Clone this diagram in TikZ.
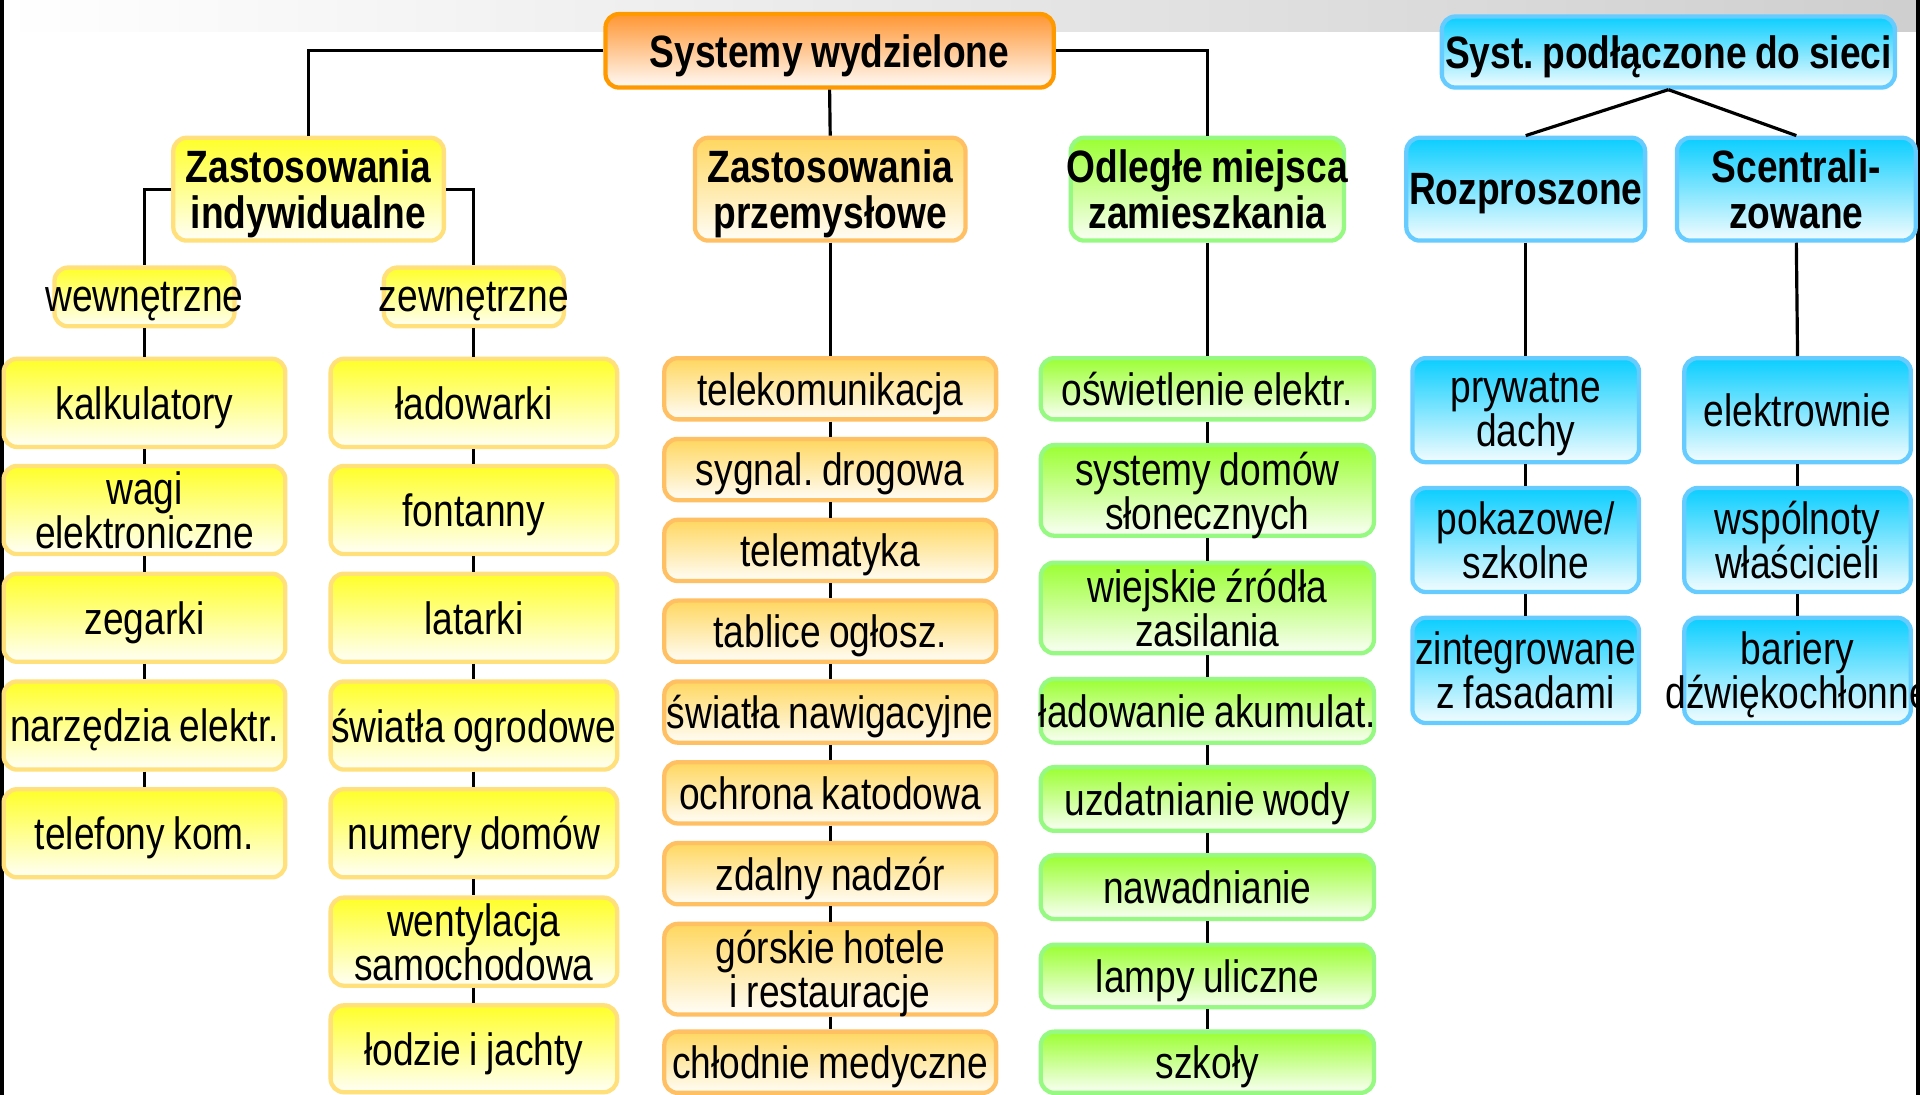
\documentclass[tikz,border=0pt]{standalone}
\usepackage{fontspec}
\setmainfont[FakeStretch=0.82,WordSpace=0.82]{Liberation Sans}
\frenchspacing
\begin{document}
\begin{tikzpicture}[x=1pt,y=1pt,
  box/.style={rounded corners=11pt, line width=3.5pt, inner sep=0pt, align=center,
    text depth=0pt, font=\fontsize{37}{36}\selectfont},
  head/.style={box, font=\fontsize{37}{37}\selectfont\bfseries},
  titleBox/.style={draw=titleDraw, top color=titleFill, bottom color=titleFill!4!white},
  yellowBox/.style={draw=yellowDraw, top color=yellowFill, bottom color=yellowFill!4!white},
  orangeBox/.style={draw=orangeDraw, top color=orangeFill, bottom color=orangeFill!5!white},
  greenBox/.style={draw=greenDraw, top color=greenFill, bottom color=greenFill!5!white},
  blueBox/.style={draw=blueDraw, top color=blueFill, bottom color=blueFill!5!white},
  link/.style={draw=black, line width=2.6pt}]
\definecolor{titleDraw}{RGB}{255,153,0}
\definecolor{titleFill}{RGB}{255,150,50}
\definecolor{yellowDraw}{RGB}{255,224,122}
\definecolor{yellowFill}{RGB}{255,255,40}
\definecolor{orangeDraw}{RGB}{255,192,100}
\definecolor{orangeFill}{RGB}{255,215,95}
\definecolor{greenDraw}{RGB}{150,250,130}
\definecolor{greenFill}{RGB}{155,255,50}
\definecolor{blueDraw}{RGB}{102,204,255}
\definecolor{blueFill}{RGB}{10,206,255}
\path[use as bounding box,fill=white] (0,0) rectangle (1568,894);

% slide frame
\shade[left color=white, right color=black!19] (0,868) rectangle (1568,894);
\fill[black] (0,0) rectangle (3,894);
\fill[black] (1565,0) rectangle (1568,894);

% headers
\node[head,titleBox,minimum width=366pt,minimum height=60pt] (sysWydz) at (677.5,852.5) {Systemy wydzielone};
\node[head,blueBox,minimum width=370pt,minimum height=58pt] (sysSiec) at (1362.5,851.5) {\makebox[0pt]{Syst. podłączone do sieci}};
\node[head,yellowBox,minimum width=221pt,minimum height=84pt] (zastInd) at (252,739.5) {Zastosowania\\indywidualne};
\node[head,orangeBox,minimum width=221pt,minimum height=84pt] (zastPrz) at (678,739.5) {Zastosowania\\przemysłowe};
\node[head,greenBox,minimum width=223pt,minimum height=84pt] (odlegle) at (986,739.5) {\makebox[0pt]{Odległe miejsca}\\zamieszkania};
\node[head,blueBox,minimum width=195pt,minimum height=84pt] (rozpr) at (1246,739.5) {Rozproszone};
\node[head,blueBox,minimum width=195pt,minimum height=84pt] (scentr) at (1467,739.5) {Scentrali-\\zowane};
\node[box,yellowBox,minimum width=147pt,minimum height=48pt] (wewn) at (118,651.5) {\makebox[0pt]{wewnętrzne}};
\node[box,yellowBox,minimum width=147pt,minimum height=48pt] (zewn) at (387,651.5) {\makebox[0pt]{zewnętrzne}};

% wewnetrzne
\node[box,yellowBox,minimum width=230pt,minimum height=72pt] (kalk) at (118,565) {kalkulatory};
\node[box,yellowBox,minimum width=230pt,minimum height=72pt] (wagi) at (118,477.5) {wagi\\elektroniczne};
\node[box,yellowBox,minimum width=230pt,minimum height=72pt] (zeg) at (118,389.5) {zegarki};
\node[box,yellowBox,minimum width=230pt,minimum height=72pt] (narz) at (118,301.5) {narzędzia elektr.};
\node[box,yellowBox,minimum width=230pt,minimum height=72pt] (telKom) at (118,213.5) {telefony kom.};

% zewnetrzne
\node[box,yellowBox,minimum width=234pt,minimum height=72pt] (ladow) at (387,565) {ładowarki};
\node[box,yellowBox,minimum width=234pt,minimum height=72pt] (fontan) at (387,477.5) {fontanny};
\node[box,yellowBox,minimum width=234pt,minimum height=72pt] (latarki) at (387,389.5) {latarki};
\node[box,yellowBox,minimum width=234pt,minimum height=72pt] (swOgr) at (387,301.5) {\makebox[0pt]{światła ogrodowe}};
\node[box,yellowBox,minimum width=234pt,minimum height=72pt] (numDom) at (387,213.5) {numery domów};
\node[box,yellowBox,minimum width=234pt,minimum height=72pt] (wentyl) at (387,125) {wentylacja\\samochodowa};
\node[box,yellowBox,minimum width=234pt,minimum height=71pt] (lodzie) at (387,37.5) {łodzie i jachty};

% przemyslowe
\node[box,orangeBox,minimum width=271pt,minimum height=50pt] (telekom) at (678,576.5) {telekomunikacja};
\node[box,orangeBox,minimum width=271pt,minimum height=50pt] (sygnal) at (678,510.5) {sygnal. drogowa};
\node[box,orangeBox,minimum width=271pt,minimum height=50pt] (telemat) at (678,444.5) {telematyka};
\node[box,orangeBox,minimum width=271pt,minimum height=50pt] (tablice) at (678,378.5) {tablice ogłosz.};
\node[box,orangeBox,minimum width=271pt,minimum height=50pt] (swNaw) at (678,312.5) {\makebox[0pt]{światła nawigacyjne}};
\node[box,orangeBox,minimum width=271pt,minimum height=50pt] (ochrona) at (678,246.5) {ochrona katodowa};
\node[box,orangeBox,minimum width=271pt,minimum height=50pt] (nadzor) at (678,180.5) {zdalny nadzór};
\node[box,orangeBox,minimum width=271pt,minimum height=74pt] (hotele) at (678,102.5) {górskie hotele\\i restauracje};
\node[box,orangeBox,minimum width=271pt,minimum height=50pt] (chlodnie) at (678,26.5) {chłodnie medyczne};

% odlegle miejsca
\node[box,greenBox,minimum width=272pt,minimum height=50pt] (oswiet) at (986,576.5) {oświetlenie elektr.};
\node[box,greenBox,minimum width=272pt,minimum height=74pt] (domySl) at (986,493.5) {systemy domów\\słonecznych};
\node[box,greenBox,minimum width=272pt,minimum height=74pt] (wiejskie) at (986,397.5) {wiejskie źródła\\zasilania};
\node[box,greenBox,minimum width=272pt,minimum height=52pt] (akumul) at (986,313.5) {\makebox[0pt]{ładowanie akumulat.}};
\node[box,greenBox,minimum width=272pt,minimum height=52pt] (woda) at (986,241.5) {uzdatnianie wody};
\node[box,greenBox,minimum width=272pt,minimum height=52pt] (nawadn) at (986,169.5) {nawadnianie};
\node[box,greenBox,minimum width=272pt,minimum height=51pt] (lampy) at (986,97) {lampy uliczne};
\node[box,greenBox,minimum width=272pt,minimum height=50pt] (szkoly) at (986,26.5) {szkoły};

% rozproszone
\node[box,blueBox,minimum width=185pt,minimum height=85pt] (dachy) at (1246,559) {prywatne\\dachy};
\node[box,blueBox,minimum width=185pt,minimum height=85pt] (pokaz) at (1246,453) {pokazowe/\\szkolne};
\node[box,blueBox,minimum width=185pt,minimum height=86pt] (fasady) at (1246,346.5) {zintegrowane\\z fasadami};

% scentralizowane
\node[box,blueBox,minimum width=185pt,minimum height=85pt] (elektr) at (1468,559) {elektrownie};
\node[box,blueBox,minimum width=185pt,minimum height=85pt] (wspoln) at (1468,453) {wspólnoty\\właścicieli};
\node[box,blueBox,minimum width=185pt,minimum height=86pt] (bariery) at (1468,346.5) {bariery\\\makebox[0pt]{dźwiękochłonne}};

% connectors
\path[link] (sysWydz.west) -| (zastInd.north);
\path[link] (sysWydz.south) -- (zastPrz.north);
\path[link] (sysWydz.east) -| (odlegle.north);
\path[link] (zastInd.west) -| (wewn.north);
\path[link] (zastInd.east) -| (zewn.north);
\path[link] (sysSiec.south) -- (rozpr.north);
\path[link] (sysSiec.south) -- (scentr.north);

\path[link] (wewn.south) -- (kalk.north);
\path[link] (kalk.south) -- (wagi.north);
\path[link] (wagi.south) -- (zeg.north);
\path[link] (zeg.south) -- (narz.north);
\path[link] (narz.south) -- (telKom.north);

\path[link] (zewn.south) -- (ladow.north);
\path[link] (ladow.south) -- (fontan.north);
\path[link] (fontan.south) -- (latarki.north);
\path[link] (latarki.south) -- (swOgr.north);
\path[link] (swOgr.south) -- (numDom.north);
\path[link] (numDom.south) -- (wentyl.north);
\path[link] (wentyl.south) -- (lodzie.north);

\path[link] (zastPrz.south) -- (telekom.north);
\path[link] (telekom.south) -- (sygnal.north);
\path[link] (sygnal.south) -- (telemat.north);
\path[link] (telemat.south) -- (tablice.north);
\path[link] (tablice.south) -- (swNaw.north);
\path[link] (swNaw.south) -- (ochrona.north);
\path[link] (ochrona.south) -- (nadzor.north);
\path[link] (nadzor.south) -- (hotele.north);
\path[link] (hotele.south) -- (chlodnie.north);

\path[link] (odlegle.south) -- (oswiet.north);
\path[link] (oswiet.south) -- (domySl.north);
\path[link] (domySl.south) -- (wiejskie.north);
\path[link] (wiejskie.south) -- (akumul.north);
\path[link] (akumul.south) -- (woda.north);
\path[link] (woda.south) -- (nawadn.north);
\path[link] (nawadn.south) -- (lampy.north);
\path[link] (lampy.south) -- (szkoly.north);

\path[link] (rozpr.south) -- (dachy.north);
\path[link] (dachy.south) -- (pokaz.north);
\path[link] (pokaz.south) -- (fasady.north);

\path[link] (scentr.south) -- (elektr.north);
\path[link] (elektr.south) -- (wspoln.north);
\path[link] (wspoln.south) -- (bariery.north);
\end{tikzpicture}
\end{document}
